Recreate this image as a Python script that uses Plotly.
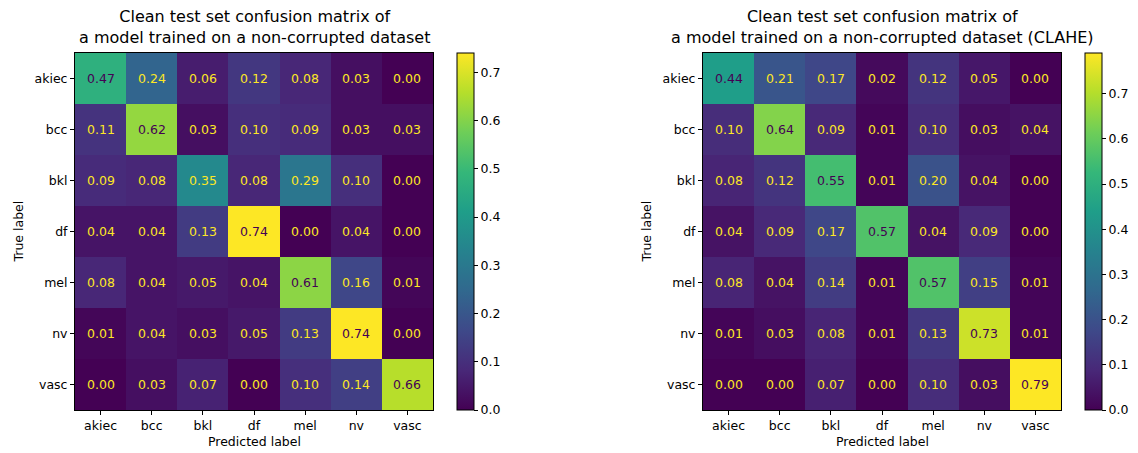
import plotly.graph_objects as go

labels = ["akiec", "bcc", "bkl", "df", "mel", "nv", "vasc"]

cm_left = [
    [0.47, 0.24, 0.06, 0.12, 0.08, 0.03, 0.00],
    [0.11, 0.62, 0.03, 0.10, 0.09, 0.03, 0.03],
    [0.09, 0.08, 0.35, 0.08, 0.29, 0.10, 0.00],
    [0.04, 0.04, 0.13, 0.74, 0.00, 0.04, 0.00],
    [0.08, 0.04, 0.05, 0.04, 0.61, 0.16, 0.01],
    [0.01, 0.04, 0.03, 0.05, 0.13, 0.74, 0.00],
    [0.00, 0.03, 0.07, 0.00, 0.10, 0.14, 0.66],
]

cm_right = [
    [0.44, 0.21, 0.17, 0.02, 0.12, 0.05, 0.00],
    [0.10, 0.64, 0.09, 0.01, 0.10, 0.03, 0.04],
    [0.08, 0.12, 0.55, 0.01, 0.20, 0.04, 0.00],
    [0.04, 0.09, 0.17, 0.57, 0.04, 0.09, 0.00],
    [0.08, 0.04, 0.14, 0.01, 0.57, 0.15, 0.01],
    [0.01, 0.03, 0.08, 0.01, 0.13, 0.73, 0.01],
    [0.00, 0.00, 0.07, 0.00, 0.10, 0.03, 0.79],
]

titles = [
    "Clean test set confusion matrix of<br>a model trained on a non-corrupted dataset",
    "Clean test set confusion matrix of<br>a model trained on a non-corrupted dataset (CLAHE)",
]
cb_ticks = [0.0, 0.1, 0.2, 0.3, 0.4, 0.5, 0.6, 0.7]

W, H = 1138, 453
FONT = "DejaVu Sans"

# pixel layout of each panel: (left, right, top, bottom, colorbar-left)
panels = [(75, 433, 53, 410, 457), (703, 1061, 53, 410, 1085)]

fig = go.Figure()
annotations = []
VIR_LO = "#440154"
VIR_HI = "#fde725"

for i, (cm, title, (l, r, t, b, cbx)) in enumerate(zip([cm_left, cm_right], titles, panels)):
    xa = "x" if i == 0 else "x2"
    ya = "y" if i == 0 else "y2"
    zmax = max(max(row) for row in cm)
    fig.add_trace(go.Heatmap(
        z=cm, x=labels, y=labels, xaxis=xa, yaxis=ya,
        colorscale="Viridis", zmin=0, zmax=zmax,
        xgap=0, ygap=0, hoverinfo="skip",
        colorbar=dict(
            x=cbx / W, xanchor="left", xpad=0, ypad=0,
            y=1 - t / H, yanchor="top", len=(b - t) / H, lenmode="fraction",
            thickness=17, thicknessmode="pixels",
            outlinewidth=1, outlinecolor="black",
            tickvals=cb_ticks, ticktext=[f"{v:.1f}" for v in cb_ticks],
            ticks="outside", ticklen=4, tickcolor="black",
            tickfont=dict(family=FONT, size=12.5, color="black"),
        ),
    ))
    thr = zmax / 2
    for ri, row in enumerate(cm):
        for ci, v in enumerate(row):
            annotations.append(dict(
                x=labels[ci], y=labels[ri], xref=xa, yref=ya,
                text=f"{v:.2f}", showarrow=False,
                font=dict(family=FONT, size=12.5, color=VIR_LO if v >= thr else VIR_HI),
            ))
    cx = (l + r) / 2 / W
    annotations.append(dict(
        x=cx, y=1 - 5 / H, xref="paper", yref="paper", xanchor="center", yanchor="top",
        text=title, showarrow=False, align="center",
        font=dict(family=FONT, size=16, color="black"),
    ))
    annotations.append(dict(
        x=cx, y=1 - 451 / H, xref="paper", yref="paper", xanchor="center", yanchor="bottom",
        text="Predicted label", showarrow=False,
        font=dict(family=FONT, size=12.5, color="black"),
    ))
    annotations.append(dict(
        x=(l - 57) / W, y=1 - (t + b) / 2 / H, xref="paper", yref="paper",
        xanchor="center", yanchor="middle", textangle=-90,
        text="True label", showarrow=False,
        font=dict(family=FONT, size=12.5, color="black"),
    ))
    axis_common = dict(
        showline=True, linecolor="black", linewidth=1, mirror=True,
        ticks="outside", ticklen=4, tickcolor="black", showgrid=False, zeroline=False,
        tickfont=dict(family=FONT, size=12.5, color="black"), automargin=False,
    )
    fig.layout["xaxis" if i == 0 else "xaxis2"] = dict(
        domain=[l / W, r / W], anchor=ya, **axis_common)
    fig.layout["yaxis" if i == 0 else "yaxis2"] = dict(
        domain=[1 - b / H, 1 - t / H], anchor=xa, autorange="reversed", **axis_common)

fig.update_layout(
    width=W, height=H, margin=dict(l=0, r=0, t=0, b=0, autoexpand=False),
    paper_bgcolor="white", plot_bgcolor="white",
    annotations=annotations, showlegend=False,
    font=dict(family=FONT, color="black"),
)

fig.write_html(
    "out.html",
    config={"displayModeBar": False},
    post_script="document.body.style.margin='0';document.body.style.overflow='hidden';",
)
